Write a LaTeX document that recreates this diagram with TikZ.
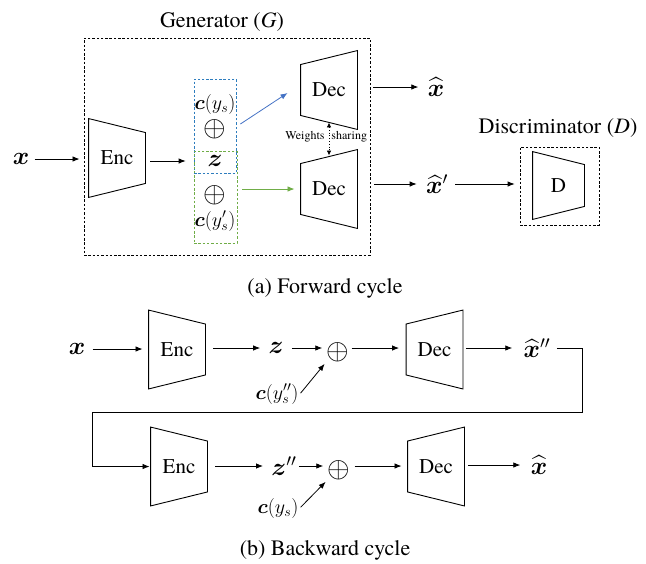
\RequirePackage{fix-cm}
\documentclass[tikz,border=0pt]{standalone}
\usepackage{amsmath}
\usepackage{fontspec}
\setmainfont{texgyretermes}[Extension=.otf,UprightFont=*-regular,ItalicFont=*-italic,BoldFont=*-bold,BoldItalicFont=*-bolditalic]
\usepackage{bm}
\usetikzlibrary{arrows.meta}
\usetikzlibrary{calc}

\begin{document}
\begin{tikzpicture}[x=1pt,y=-1pt,line width=0.9pt,
  conn/.style={-{Latex[length=7pt,width=5.5pt]},line width=0.8pt,shorten <=5pt,shorten >=6pt},
  block/.style={minimum width=56pt,minimum height=78pt,inner sep=0pt,font=\fontsize{21}{24}\selectfont},
  lab/.style={font=\fontsize{25}{28}\selectfont,inner sep=2pt},
  opl/.style={font=\fontsize{29}{30}\selectfont,inner sep=1pt},
  cond/.style={font=\fontsize{20}{22}\selectfont,inner sep=1pt},
  subcap/.style={font=\fontsize{22}{26}\selectfont},
  dbox/.style={draw,dash pattern=on 2.5pt off 1.8pt,line width=0.8pt,inner sep=0pt},
  wlab/.style={font=\fontsize{12}{14}\selectfont,inner sep=0pt},
]
\definecolor{BoxBlue}{RGB}{46,125,190}
\definecolor{BoxGreen}{RGB}{112,173,71}
\definecolor{ArrowBlue}{RGB}{68,114,196}
% encoder: wide side on the left, decoder: wide side on the right
\def\encshape#1#2{\draw (#1.north west) -- ([yshift=-#2]#1.north east) -- ([yshift=#2]#1.south east) -- (#1.south west) -- cycle;}
\def\decshape#1#2{\draw (#1.north east) -- ([yshift=-#2]#1.north west) -- ([yshift=#2]#1.south west) -- (#1.south east) -- cycle;}

\useasboundingbox (0,0) rectangle (646,563);

%% (a) forward cycle
\node[dbox,minimum width=286,minimum height=217] (gen) at (227,146.5) {};
\node[subcap] (gentitle) at (222,22) {Generator (\textit{G})};

\node[lab] (x0) at (21,159) {$\bm{x}$};
\node[block] (enc0) at (117,158) {Enc};
\encshape{enc0}{14pt}

\node[dbox,draw=BoxBlue,minimum width=42,minimum height=94] (sblue) at (215,126) {};
\node[dbox,draw=BoxGreen,minimum width=43,minimum height=92] (sgreen) at (215.5,197) {};
\node[cond] (cys) at (215,104) {$\bm{c}(y_s)$};
\node[opl] (op0) at (215,129) {$\oplus$};
\node[lab] (z0) at (215,161) {$\bm{z}$};
\node[opl] (op0b) at (215,195) {$\oplus$};
\node[cond] (cysp) at (215,221) {$\bm{c}(y_s')$};

\node[block] (dec0) at (329,90) {Dec};
\decshape{dec0}{14pt}
\node[block] (dec0b) at (329,189) {Dec};
\decshape{dec0b}{14pt}

\draw[conn,shorten >=9pt,shorten <=3pt] (x0) -- (x0 -| enc0.west);
\draw[conn,shorten >=8pt] (enc0.east |- z0) -- (sblue.west |- z0);
\draw[conn,color=ArrowBlue,shorten <=0pt,shorten >=0pt] ($(sblue.east)+(4,-2)$) -- ($(dec0.west)+(-13,3)$);
\draw[conn,color=BoxGreen] (sgreen.east |- dec0b) -- (dec0b);

% shared weights
\draw[dotted,line width=0.8pt,{Latex[length=5pt,width=4.5pt]}-{Latex[length=5pt,width=4.5pt]},shorten <=-7pt,shorten >=-6pt] (dec0.south) -- (dec0b.north);
\node[wlab,anchor=east] (wts) at (325,137) {Weights};
\node[wlab,anchor=west] (shr) at (331,137) {sharing};

\node[lab] (xh0) at (436,87) {$\widehat{\bm{x}}$};
\node[lab] (xh0p) at (437,184) {$\widehat{\bm{x}}'$};
\draw[conn,shorten <=3pt,shorten >=7pt] (gen.east |- xh0) -- (xh0);
\draw[conn,shorten <=4pt,shorten >=7pt] (gen.east |- xh0p) -- (xh0p);

\node[dbox,minimum width=79,minimum height=78] (dbx) at (559.5,186) {};
\node[block,minimum width=51,minimum height=67] (disc) at (558.5,185.5) {D};
\encshape{disc}{13pt}
\node[subcap] (disctitle) at (558,128) {Discriminator (\textit{D})};
\draw[conn,shorten >=5pt] (xh0p) -- (xh0p -| dbx.west);

\node[subcap] (capa) at (325,288) {(a) Forward cycle};

%% (b) backward cycle
\node[lab] (x1) at (77,349) {$\bm{x}$};
\node[block] (enc1) at (177,349.5) {Enc};
\encshape{enc1}{14pt}
\node[lab] (z1) at (276,348) {$\bm{z}$};
\node[opl] (op1) at (338,352) {$\oplus$};
\node[cond] (cy1) at (277,394) {$\bm{c}(y_s'')$};
\node[block] (dec1) at (434.5,349.5) {Dec};
\decshape{dec1}{14pt}
\node[lab] (xpp) at (537,348) {$\widehat{\bm{x}}''$};

\draw[conn] (x1) -- (x1 -| enc1.west);
\draw[conn,shorten <=8pt] (enc1.east |- z1) -- (z1);
\draw[conn,shorten <=6pt,shorten >=3pt] (z1) -- (z1 -| op1.west);
\draw[conn,shorten <=1pt,shorten >=7pt] (op1.east |- z1) -- (z1 -| dec1.west);
\draw[conn,shorten <=1pt,shorten >=1pt] (cy1.east) -- (op1.south west);
\draw[conn,shorten <=3pt,shorten >=9pt] (dec1.east |- xpp) -- (xpp);

\coordinate (turnA) at (582,412);
\coordinate (turnB) at (92,412);

\node[block] (enc2) at (179,466.5) {Enc};
\encshape{enc2}{14pt}
\node[lab] (z2) at (284,466) {$\bm{z}''$};
\node[opl] (op2) at (339,470) {$\oplus$};
\node[cond] (cy2) at (278,508) {$\bm{c}(y_s)$};
\node[block] (dec2) at (436,466.5) {Dec};
\decshape{dec2}{14pt}
\node[lab] (xh2) at (539,465) {$\widehat{\bm{x}}$};

\draw[conn,shorten <=4pt,shorten >=1pt] (xpp.east) -- (xpp.east -| turnA) -- (turnA) -- (turnB) -- (turnB |- enc2) -- (enc2.west);
\draw[conn,shorten <=8pt] (enc2.east |- z2) -- (z2);
\draw[conn,shorten <=0pt,shorten >=3pt] (z2) -- (z2 -| op2.west);
\draw[conn,shorten <=3pt,shorten >=6pt] (op2.east |- z2) -- (z2 -| dec2.west);
\draw[conn,shorten <=1pt,shorten >=1pt] (cy2.east) -- (op2.south west);
\draw[conn,shorten <=4pt,shorten >=8pt] (dec2.east |- xh2) -- (xh2);

\node[subcap] (capb) at (325,550) {(b) Backward cycle};
\end{tikzpicture}
\end{document}
